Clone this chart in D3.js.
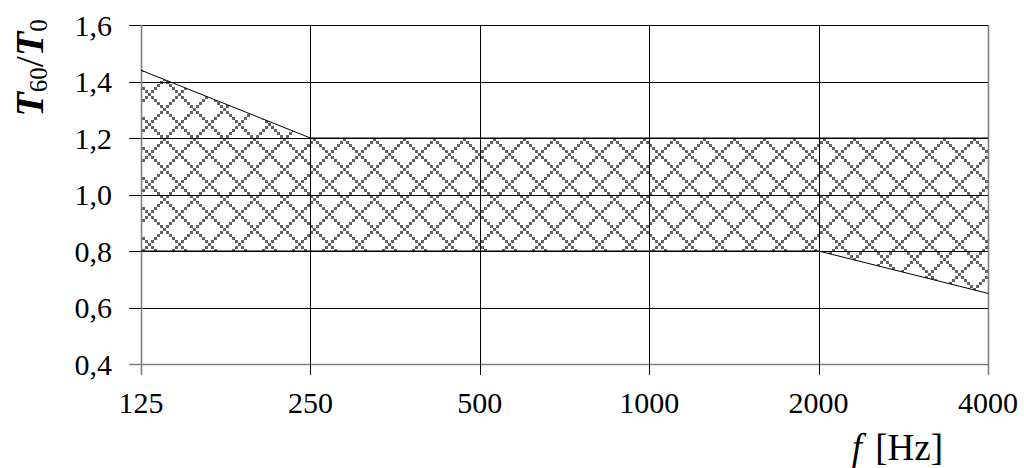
<!DOCTYPE html>
<html>
<head>
<meta charset="utf-8">
<script src="https://cdn.jsdelivr.net/npm/d3@7"></script>
<style>
  html, body { margin: 0; padding: 0; background: #fff; }
  svg { display: block; }
  text { font-family: "Liberation Serif", "Times New Roman", serif; fill: #000; }
</style>
</head>
<body>
<svg id="chart" width="1024" height="468"></svg>
<script>
// ---- data ----
const freqs = [125, 250, 500, 1000, 2000, 4000];
const upperLimit = [1.44, 1.2, 1.2, 1.2, 1.2, 1.2];
const lowerLimit = [0.8, 0.8, 0.8, 0.8, 0.8, 0.65];
const yTicks = [0.4, 0.6, 0.8, 1.0, 1.2, 1.4, 1.6];
const xTickLabels = ["125", "250", "500", "1000", "2000", "4000"];

// ---- layout ----
const plotLeft = 141, plotRight = 988, plotTop = 25, plotBottom = 364;
const svg = d3.select("#chart");

const x = d3.scaleLog().base(2).domain([125, 4000]).range([plotLeft, plotRight]);
const y = d3.scaleLinear().domain([0.4, 1.6]).range([plotBottom, plotTop]);

// ---- hatch pattern (pixel-stepped diamonds) ----
const defs = svg.append("defs");
const P = 30, S = 3;
const pat = defs.append("pattern")
  .attr("id", "diamonds")
  .attr("patternUnits", "userSpaceOnUse")
  .attr("x", 13).attr("y", 18)
  .attr("width", P).attr("height", P);
const blocks = [];
const n = P / S;
for (let i = 0; i < n; i++) {
  blocks.push([S * i, S * i]);
  if (i !== 0 && i !== n / 2) blocks.push([S * i, (P - S * i) % P]);
}
pat.selectAll("rect").data(blocks).join("rect")
  .attr("x", d => d[0]).attr("y", d => d[1])
  .attr("width", S).attr("height", S)
  .attr("fill", "#636363")
  .attr("shape-rendering", "crispEdges");

// ---- tolerance band ----
const band = freqs.map((f, i) => ({ f, hi: upperLimit[i], lo: lowerLimit[i] }));
svg.append("path")
  .datum(band)
  .attr("fill", "url(#diamonds)")
  .attr("d", d3.area().x(d => x(d.f)).y0(d => y(d.lo)).y1(d => y(d.hi)));

// ---- grid: horizontal ----
const snap = v => Math.round(v) + 0.5;
svg.append("g").selectAll("line").data(yTicks).join("line")
  .attr("x1", plotLeft - 12).attr("x2", plotRight)
  .attr("y1", d => snap(y(d))).attr("y2", d => snap(y(d)))
  .attr("stroke", d => d === 0.4 ? "#808080" : "#000")
  .attr("stroke-width", d => d === 0.4 ? 1.5 : 1);

// ---- grid: vertical ----
svg.append("g").selectAll("line").data(freqs).join("line")
  .attr("x1", d => snap(x(d))).attr("x2", d => snap(x(d)))
  .attr("y1", plotTop).attr("y2", plotBottom + 11)
  .attr("stroke", (d, i) => (i === 0 || i === freqs.length - 1) ? "#808080" : "#000")
  .attr("stroke-width", (d, i) => (i === 0 || i === freqs.length - 1) ? 1.6 : 1);

// ---- band boundary lines ----
svg.append("path").datum(band)
  .attr("fill", "none").attr("stroke", "#000").attr("stroke-width", 1)
  .attr("d", d3.line().x(d => x(d.f)).y(d => y(d.hi)));
svg.append("path").datum(band)
  .attr("fill", "none").attr("stroke", "#000").attr("stroke-width", 1)
  .attr("d", d3.line().x(d => x(d.f)).y(d => y(d.lo)));

// ---- tick labels ----
const fmt = v => d3.format(".1f")(v).replace(".", ",");
svg.append("g").selectAll("text").data(yTicks).join("text")
  .attr("x", 112).attr("y", d => y(d) + 10.5)
  .attr("text-anchor", "end")
  .attr("font-size", 30)
  .text(fmt);

svg.append("g").selectAll("text").data(freqs).join("text")
  .attr("x", d => x(d)).attr("y", 413)
  .attr("text-anchor", "middle")
  .attr("font-size", 30)
  .text((d, i) => xTickLabels[i]);

// ---- axis titles ----
const yt = svg.append("text")
  .attr("transform", "translate(43,68) rotate(-90)")
  .attr("text-anchor", "middle")
  .attr("font-size", 40);
yt.append("tspan").attr("font-weight", "bold").attr("font-style", "italic").text("T");
yt.append("tspan").attr("font-size", 25).attr("dy", 4).text("60");
yt.append("tspan").attr("dy", -4).text("/");
yt.append("tspan").attr("font-weight", "bold").attr("font-style", "italic").text("T");
yt.append("tspan").attr("font-size", 25).attr("dy", 4).text("0");

const xt = svg.append("text")
  .attr("x", 943).attr("y", 460)
  .attr("text-anchor", "end")
  .attr("font-size", 37);
xt.append("tspan").attr("font-style", "italic").text("f");
xt.append("tspan").attr("dx", 4).text(" [Hz]");
</script>
</body>
</html>
